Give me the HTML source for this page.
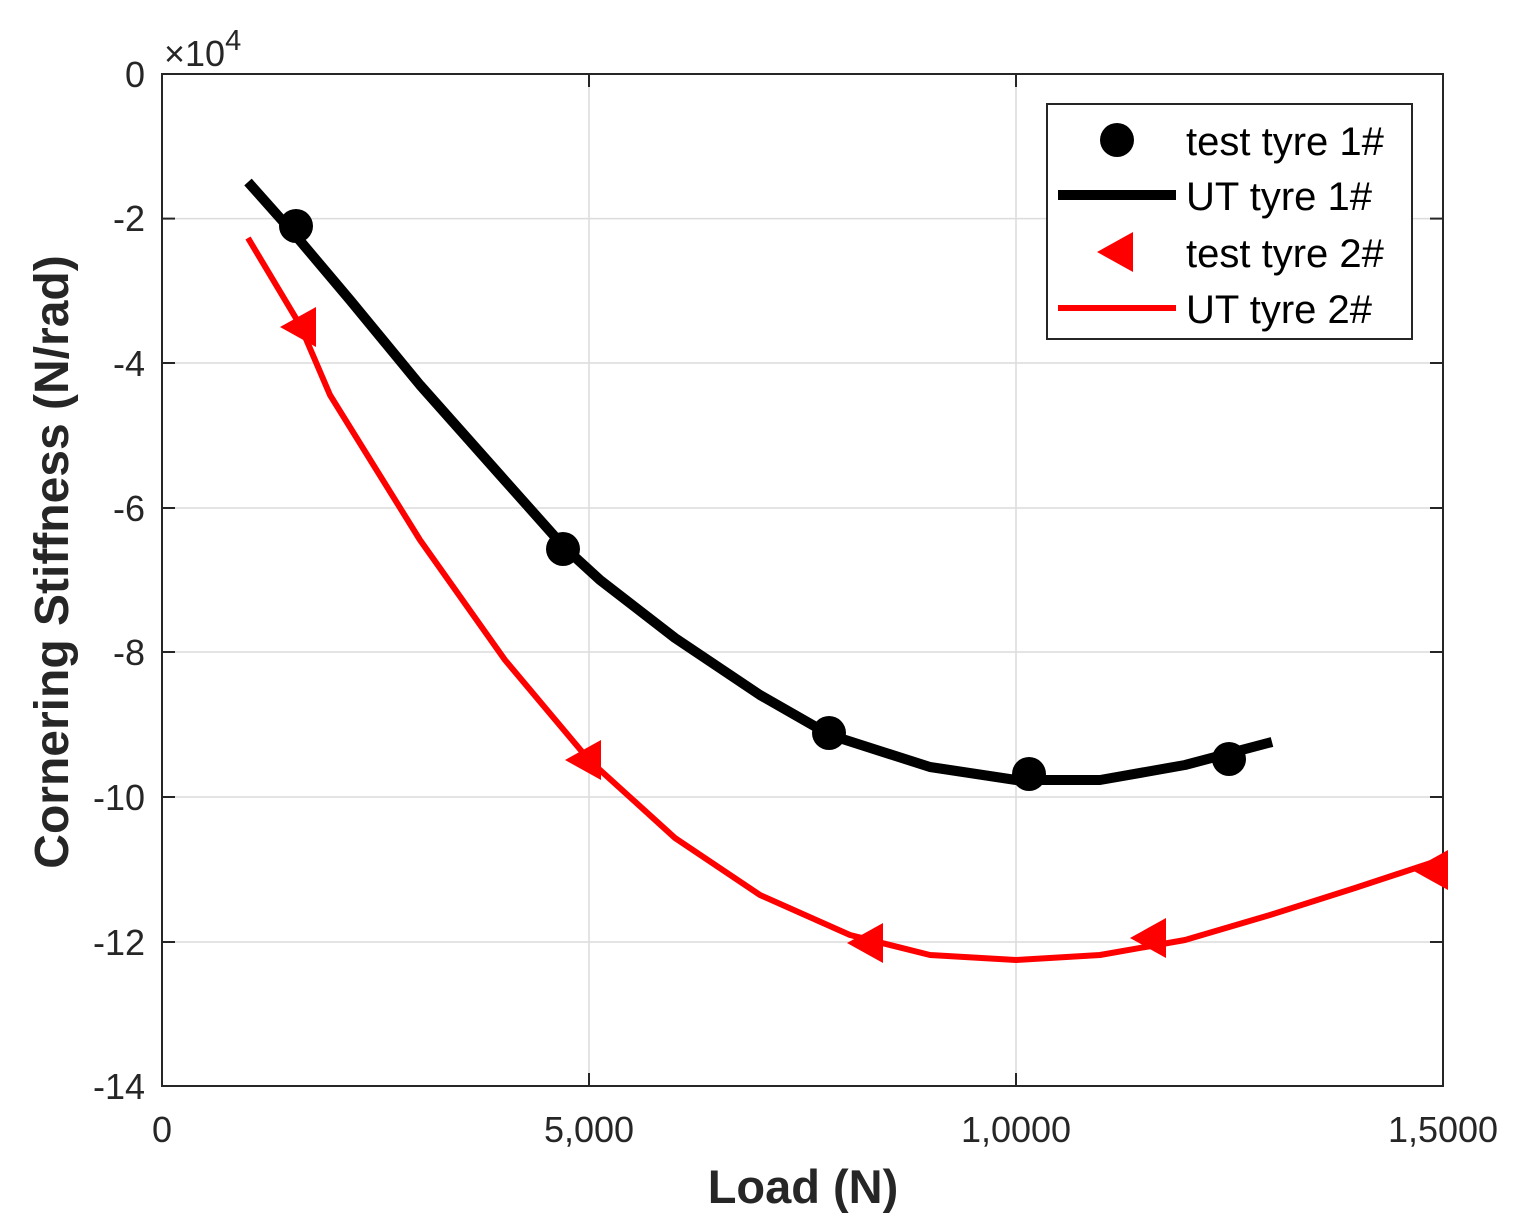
<!DOCTYPE html>
<html><head><meta charset="utf-8"><style>body{margin:0;background:#fff}</style></head><body>
<svg width="1515" height="1224" xmlns="http://www.w3.org/2000/svg" font-family="Liberation Sans, sans-serif">
<rect width="1515" height="1224" fill="#fff"/>
<g stroke="#dcdcdc" stroke-width="1.5">
<line x1="589" y1="74" x2="589" y2="1086"/><line x1="1016" y1="74" x2="1016" y2="1086"/>
<line x1="162" y1="218.6" x2="1443" y2="218.6"/><line x1="162" y1="363" x2="1443" y2="363"/>
<line x1="162" y1="508" x2="1443" y2="508"/><line x1="162" y1="652" x2="1443" y2="652"/>
<line x1="162" y1="797" x2="1443" y2="797"/><line x1="162" y1="942" x2="1443" y2="942"/>
</g>
<rect x="162" y="74" width="1281" height="1012" fill="none" stroke="#262626" stroke-width="2"/>
<g stroke="#262626" stroke-width="2">
<line x1="589" y1="1086" x2="589" y2="1073"/><line x1="1016" y1="1086" x2="1016" y2="1073"/>
<line x1="589" y1="74" x2="589" y2="87"/><line x1="1016" y1="74" x2="1016" y2="87"/>
<line x1="162" y1="218.6" x2="175" y2="218.6"/><line x1="162" y1="363" x2="175" y2="363"/><line x1="162" y1="508" x2="175" y2="508"/><line x1="162" y1="652" x2="175" y2="652"/><line x1="162" y1="797" x2="175" y2="797"/><line x1="162" y1="942" x2="175" y2="942"/>
<line x1="1443" y1="218.6" x2="1430" y2="218.6"/><line x1="1443" y1="363" x2="1430" y2="363"/><line x1="1443" y1="508" x2="1430" y2="508"/><line x1="1443" y1="652" x2="1430" y2="652"/><line x1="1443" y1="797" x2="1430" y2="797"/><line x1="1443" y1="942" x2="1430" y2="942"/>
</g>
<g font-size="36" fill="#262626" text-anchor="end">
<text x="145" y="87">0</text><text x="145" y="231">-2</text><text x="145" y="376">-4</text><text x="145" y="521">-6</text><text x="145" y="665">-8</text><text x="145" y="810">-10</text><text x="145" y="955">-12</text><text x="145" y="1099">-14</text>
</g>
<g font-size="36" fill="#262626" text-anchor="middle">
<text x="162" y="1142">0</text><text x="589" y="1142">5,000</text><text x="1016" y="1142">1,0000</text><text x="1443" y="1142">1,5000</text>
</g>
<text x="164" y="66" font-size="36" fill="#262626">×10<tspan dy="-16" font-size="29">4</tspan></text>
<text x="803" y="1203" font-size="47" font-weight="bold" fill="#262626" text-anchor="middle">Load (N)</text>
<text transform="translate(68,562) rotate(-90)" font-size="48" font-weight="bold" fill="#262626" text-anchor="middle">Cornering Stiffness (N/rad)</text>
<polyline fill="none" stroke="#000" stroke-width="10" stroke-linejoin="round" points="248,182 296,236 350,300 420,385 500,475 565,548 600,580 675,638 760,695 830,735 930,767 1016,780 1100,780 1185,765 1272,742"/>
<polyline fill="none" stroke="#f00" stroke-width="6" stroke-linejoin="round" points="248,238 300,325 330,395 420,540 505,660 589,760 675,838 760,895 850,935 930,955 1016,960 1100,955 1185,940 1270,915 1355,888 1440,860"/>
<g fill="#000"><circle cx="296" cy="226" r="17"/><circle cx="563" cy="549" r="17"/><circle cx="829" cy="733" r="17"/><circle cx="1029" cy="774" r="17"/><circle cx="1229" cy="759" r="17"/></g>
<g fill="#f00">
<polygon points="280,327 316,307 316,347"/><polygon points="565,760 601,740 601,780"/><polygon points="847,943 883,923 883,963"/><polygon points="1130,938 1166,918 1166,958"/><polygon points="1412,870 1448,850 1448,890"/>
</g>
<rect x="1047" y="104" width="365" height="235" fill="#fff" stroke="#262626" stroke-width="2"/>
<circle cx="1117" cy="140" r="17" fill="#000"/>
<line x1="1058" y1="195" x2="1176" y2="195" stroke="#000" stroke-width="10"/>
<polygon points="1097,252 1133,232 1133,272" fill="#f00"/>
<line x1="1058" y1="308" x2="1176" y2="308" stroke="#f00" stroke-width="6"/>
<g font-size="40" fill="#000">
<text x="1186" y="155">test tyre 1#</text><text x="1186" y="210">UT tyre 1#</text><text x="1186" y="267">test tyre 2#</text><text x="1186" y="323">UT tyre 2#</text>
</g>
</svg>
</body></html>
